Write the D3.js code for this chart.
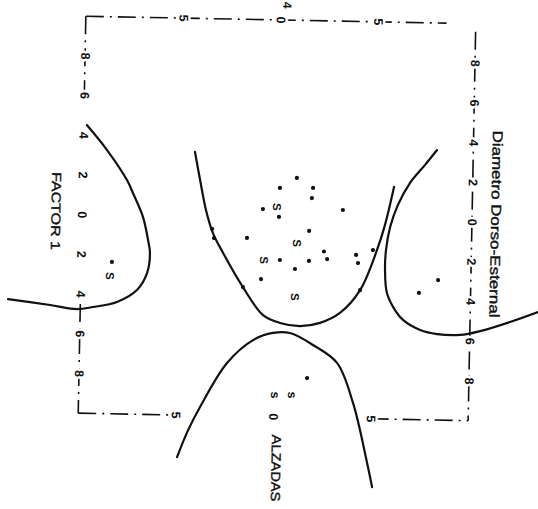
<!DOCTYPE html>
<html>
<head>
<meta charset="utf-8">
<script src="https://cdn.jsdelivr.net/npm/d3@7/dist/d3.min.js"></script>
<style>
  html, body { margin: 0; padding: 0; background: #fff; }
  svg { display: block; }
</style>
</head>
<body>
<svg id="chart" width="538" height="509"></svg>
<script>
// ---- data (factor units; chart is printed rotated 90°) ----
const hTicks = [-5, 0, 5];
const hTickLabels = ["5", "0", "5"];
const vTicks = [-8, -6, -4, -2, 0, 2, 4, 6, 8];
const vTickLabels = ["8", "6", "4", "2", "0", "2", "4", "6", "8"];

const dots = [
  [0.98, -2.06], [0.12, -1.54], [1.82, -1.57], [1.77, -1.06], [-0.73, -0.46],
  [3.37, -0.49], [0.10, -0.08], [1.66, 0.60], [-1.52, 1.01], [2.44, 1.62],
  [4.09, 1.76], [2.61, 2.00], [0.19, 2.09], [1.68, 2.11], [4.20, 2.17],
  [4.95, 1.50], [0.97, 2.53], [-0.76, 3.07], [4.33, 3.53], [-1.68, 3.49],
  [-3.32, 0.59], [-3.21, 1.05],
  [-8.42, 2.35],
  [8.32, 2.95], [7.35, 3.61],
  [1.70, 8.01]
];
const sLabels = [
  [-0.01, -0.58, "S"], [1.05, 1.22, "S"], [-0.63, 2.11, "S"], [1.00, 3.94, "S"],
  [-8.51, 3.06, "S"]
];
const smallS = [[0.07, 8.90, "s"], [0.94, 8.88, "s"]];

const leftCurve = [
  [-9.84, -4.52], [-8.78, -3.28], [-7.73, -1.79], [-7.41, -1.14], [-6.87, 0.06],
  [-6.59, 1.21], [-6.48, 1.86], [-6.61, 2.88], [-7.11, 3.74], [-8.12, 4.36],
  [-9.35, 4.64], [-10.17, 4.76], [-11.55, 4.58], [-13.71, 4.32]
];
const centerCurve = [
  [-4.27, -3.27], [-3.98, -1.86], [-3.65, -0.36], [-3.27, 0.80], [-2.73, 1.79],
  [-1.68, 3.49], [-0.62, 4.88], [0.26, 5.26], [1.29, 5.40], [2.31, 5.22],
  [3.32, 4.70], [4.33, 3.53], [5.16, 1.49], [5.54, 0.23], [5.97, -1.70]
];
const bottomCurve = [
  [-4.89, 12.12], [-4.35, 10.75], [-3.76, 9.57], [-2.42, 7.33], [-1.11, 6.15],
  [-0.09, 5.77], [0.78, 5.76], [1.97, 6.34], [3.22, 7.22], [4.08, 9.22],
  [4.86, 12.23], [5.14, 13.44]
];
const rightCurve = [
  [8.14, -3.60], [7.54, -2.84], [6.78, -1.91], [6.19, -0.80], [5.81, 0.32],
  [5.62, 1.49], [5.59, 2.49], [5.71, 3.65], [6.14, 4.50], [6.56, 4.99],
  [7.45, 5.48], [8.32, 5.67], [9.50, 5.69], [10.52, 5.48], [12.05, 4.99], [13.48, 4.46]
];

const frameSegments = [
  [[-10, -10], [8.5, -10]],
  [[-10, -10], [-10, -6.3]],
  [[-10, 4.5], [-10, 10]],
  [[-10, 10], [-5, 10]],
  [[5, 10], [10, 10]],
  [[10, -9.6], [10, 10]]
];

const titles = [
  { text: "FACTOR 1", x: -11.34, y: -0.16, len: 78, size: 13 },
  { text: "Diametro Dorso-Esternal", x: 11.24, y: 0.07, len: 187, size: 14 },
  { text: "ALZADAS", x: 0.19, y: 12.57, len: 67, size: 13 }
];
const extraLabels = [[0.31, -10.75, "4"]];

// ---- drawing ----
const svg = d3.select("#chart");
svg.append("rect").attr("width", 538).attr("height", 509).attr("fill", "#fff");

const x = d3.scaleLinear().domain([-10, 10]).range([82, 472]);
const y = d3.scaleLinear().domain([-10, 10]).range([20, 417]);

const g = svg.append("g").attr("transform", "rotate(1.1,280,218)");
const ink = "#111";
const font = "'Liberation Sans', Arial, sans-serif";

// frame
g.selectAll("line.frame").data(frameSegments).join("line")
  .attr("class", "frame")
  .attr("x1", d => x(d[0][0])).attr("y1", d => y(d[0][1]))
  .attr("x2", d => x(d[1][0])).attr("y2", d => y(d[1][1]))
  .attr("stroke", ink).attr("stroke-width", 1.6)
  .attr("stroke-dasharray", "18,6,2,6");

function rotText(sel, size, weight) {
  return sel.attr("text-anchor", "middle")
    .attr("dominant-baseline", "central")
    .attr("font-family", font)
    .attr("font-size", size)
    .attr("font-weight", weight)
    .attr("fill", ink);
}
function haloed(sel) {
  return sel.attr("stroke", "#fff").attr("stroke-width", 5)
    .attr("paint-order", "stroke").attr("stroke-linejoin", "round");
}

// tick labels
const tickData = [];
vTicks.forEach((v, i) => {
  tickData.push({ x: -10, y: v, t: vTickLabels[i] });
  tickData.push({ x: 10, y: v, t: vTickLabels[i] });
});
hTicks.forEach((v, i) => {
  tickData.push({ x: v, y: -10, t: hTickLabels[i] });
  tickData.push({ x: v, y: 10, t: hTickLabels[i] });
});
g.selectAll("text.tick").data(tickData).join("text")
  .attr("class", "tick")
  .attr("transform", d => `translate(${x(d.x)},${y(d.y)}) rotate(90)`)
  .text(d => d.t)
  .call(rotText, 12.5, "bold")
  .call(haloed);

g.selectAll("text.extra").data(extraLabels).join("text")
  .attr("class", "extra")
  .attr("transform", d => `translate(${x(d[0])},${y(d[1])}) rotate(90)`)
  .text(d => d[2])
  .call(rotText, 12, "bold");

// curves
const line = d3.line().x(d => x(d[0])).y(d => y(d[1])).curve(d3.curveCatmullRom.alpha(0.5));
g.selectAll("path.curve").data([leftCurve, centerCurve, bottomCurve, rightCurve]).join("path")
  .attr("class", "curve")
  .attr("d", line)
  .attr("fill", "none").attr("stroke", ink).attr("stroke-width", 2.2)
  .attr("stroke-linecap", "round");

// dots
g.selectAll("circle.dot").data(dots).join("circle")
  .attr("class", "dot")
  .attr("cx", d => x(d[0])).attr("cy", d => y(d[1]))
  .attr("r", 2.1).attr("fill", ink);

// S labels
g.selectAll("text.s").data(sLabels).join("text")
  .attr("class", "s")
  .attr("transform", d => `translate(${x(d[0])},${y(d[1])}) rotate(90)`)
  .text(d => d[2])
  .call(rotText, 11.5, "bold");
g.selectAll("text.ss").data(smallS).join("text")
  .attr("class", "ss")
  .attr("transform", d => `translate(${x(d[0])},${y(d[1])}) rotate(90)`)
  .text(d => d[2])
  .call(rotText, 12.5, "bold");

// titles
g.selectAll("text.title").data(titles).join("text")
  .attr("class", "title")
  .attr("transform", d => `translate(${x(d.x)},${y(d.y)}) rotate(90)`)
  .attr("textLength", d => d.len)
  .attr("lengthAdjust", "spacingAndGlyphs")
  .text(d => d.text)
  .call(rotText, d => d.size, "normal")
  .attr("stroke", ink).attr("stroke-width", 0.4);
</script>
</body>
</html>
